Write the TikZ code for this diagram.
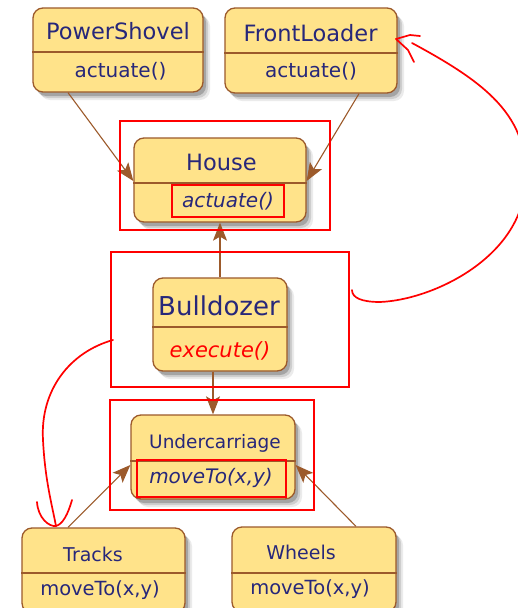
\documentclass[tikz,border=0pt]{standalone}
\usepackage{fontspec}
\setmainfont{DejaVu Sans}
\usetikzlibrary{arrows.meta,shadows}
\definecolor{clsfill}{HTML}{FFE38A}
\definecolor{clsedge}{HTML}{9C5A2B}
\definecolor{clstext}{HTML}{27277A}
\definecolor{inkred}{HTML}{FF0000}
\begin{document}
\begin{tikzpicture}[x=1pt,y=-1pt,
  cls/.style={draw=clsedge,line width=1.3pt,fill=clsfill,rounded corners=10pt,inner sep=0pt,
    general shadow={shadow xshift=7pt,shadow yshift=-8pt,fill=black,opacity=0.08},
    general shadow={shadow xshift=5pt,shadow yshift=-6pt,fill=black,opacity=0.12},
    general shadow={shadow xshift=3pt,shadow yshift=-4pt,fill=black,opacity=0.2}},
  divline/.style={draw=clsedge,line width=1.3pt},
  txt/.style={text=clstext,anchor=base,inner sep=0pt},
  ttl/.style={txt,font=\fontsize{22.5}{26}\selectfont},
  ttlsmall/.style={txt,font=\fontsize{19}{22}\selectfont},
  meth/.style={txt,font=\fontsize{20}{24}\selectfont},
  methit/.style={txt,font=\fontsize{20}{24}\selectfont\itshape},
  conn/.style={draw=clsedge,line width=1.1pt,-{Stealth[length=18pt,width=14pt,inset=4pt]}},
  hl/.style={draw=inkred,line width=2pt},
  ink/.style={draw=inkred,line width=1.7pt,line cap=round,line join=round}]
\clip (0,0) rectangle (518,608);
\fill[white] (0,0) rectangle (518,608);

% class boxes
\node[cls,minimum width=170,minimum height=84] (ps) at (118,50) {};
\draw[divline] (ps.west |- 0,52) -- (ps.east |- 0,52);
\node[ttl] (ps-t) at (118,39) {PowerShovel};
\node[meth] (ps-m) at (120.5,77) {actuate()};

\node[cls,minimum width=172,minimum height=85] (fl) at (311,50.5) {};
\draw[divline] (fl.west |- 0,53) -- (fl.east |- 0,53);
\node[ttl] (fl-t) at (310.5,41) {FrontLoader};
\node[meth] (fl-m) at (311,77) {actuate()};

\node[cls,minimum width=172,minimum height=84] (house) at (220,180) {};
\draw[divline] (house.west |- 0,183) -- (house.east |- 0,183);
\node[ttl] (house-t) at (221.5,170) {House};
\node[methit] (house-m) at (228,207) {actuate()};

\node[cls,minimum width=134,minimum height=93] (bd) at (220,324.5) {};
\draw[divline] (bd.west |- 0,327) -- (bd.east |- 0,327);
\node[txt,font=\fontsize{26}{30}\selectfont] (bd-t) at (219,315) {Bulldozer};
\node[txt,text=inkred,font=\fontsize{21}{24}\selectfont\itshape] (bd-m) at (220,357) {execute()};

\node[cls,minimum width=164,minimum height=84] (uc) at (213,457) {};
\draw[divline] (uc.west |- 0,461) -- (uc.east |- 0,461);
\node[ttlsmall,font=\fontsize{18.5}{22}\selectfont] (uc-t) at (215,448) {Undercarriage};
\node[methit] (uc-m) at (211,483) {moveTo(x,y)};

\node[cls,minimum width=163,minimum height=85] (tr) at (103.5,570.5) {};
\draw[divline] (tr.west |- 0,573) -- (tr.east |- 0,573);
\node[ttlsmall] (tr-t) at (93,561) {Tracks};
\node[meth,font=\fontsize{19.5}{23}\selectfont] (tr-m) at (100,595) {moveTo(x,y)};

\node[cls,minimum width=164,minimum height=85] (wh) at (314,569.5) {};
\draw[divline] (wh.west |- 0,573) -- (wh.east |- 0,573);
\node[ttlsmall] (wh-t) at (301,559) {Wheels};
\node[meth,font=\fontsize{19.5}{23}\selectfont] (wh-m) at (310,594) {moveTo(x,y)};

% inheritance connectors
\draw[conn] (ps.south -| 68,0) -- (house.west |- 0,181);
\draw[conn] (fl.south -| 359,0) -- (house.east |- 0,181);
\draw[conn] (bd.north) -- (house.south);
\draw[conn] (bd.south -| 213,0) -- (uc.north);
\draw[conn] (tr.north -| 68,0) -- (uc.west |- 0,465);
\draw[conn] (wh.north -| 356,0) -- (uc.east |- 0,465);

% red annotation frames, drawn over everything
\draw[hl] (120,121) rectangle (330,230);
\draw[hl] (111,252) rectangle (349,387);
\draw[hl] (110,400) rectangle (314,510);
\draw[hl] (172,185) rectangle (284,217);
\draw[hl] (137,460) rectangle (286,497);

% hand-drawn strokes
\coordinate (flhook) at (396,39);
\draw[ink] (420,36) -- (410,35) -- (flhook) -- (408,50) -- (414,62);
\draw[ink] (412,43) .. controls (490,85) and (535,120) .. (524,195)
  .. controls (512,262) and (430,300) .. (380,302)
  .. controls (362,302) and (352,298) .. (352,290);
\coordinate (trtip) at (56,526);
\draw[ink] (113,340) .. controls (70,352) and (40,390) .. (43,440)
  .. controls (45,480) and (52,505) .. (trtip);
\draw[ink] (37,502) .. controls (38,518) and (49,527) .. (trtip)
  .. controls (63,524) and (68,514) .. (72,500);
\end{tikzpicture}
\end{document}
